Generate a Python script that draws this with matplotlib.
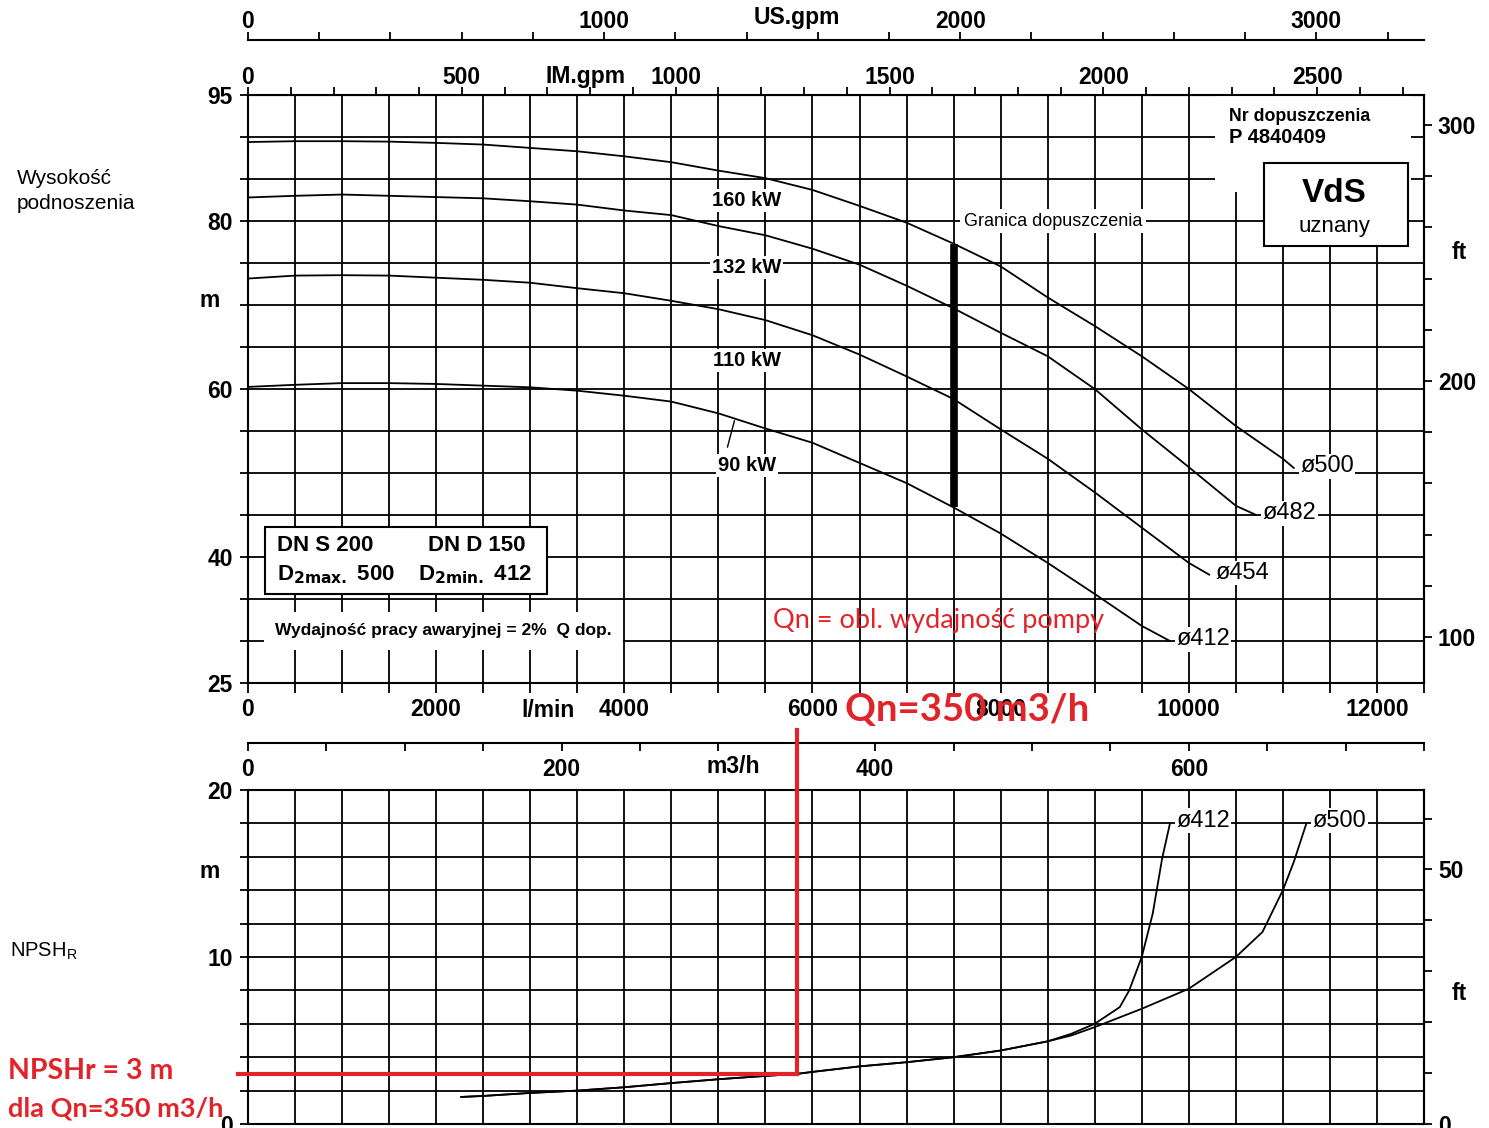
import numpy as np
import matplotlib
matplotlib.use('Agg')
import matplotlib.pyplot as plt
from matplotlib.patches import Rectangle

plt.rcParams['font.family'] = ['Liberation Sans', 'DejaVu Sans']
plt.rcParams['font.weight'] = 'bold'

# unit conversions
IM_GPM = 0.272765   # m3/h per imperial gpm
US_GPM = 0.227125   # m3/h per US gpm
FT = 0.3048         # m per ft

# Q-H curves, Q in m3/h, H in m
q500 = [0, 30, 60, 90, 120, 150, 180, 210, 240, 270, 300, 330, 360, 390, 420, 450, 480, 510, 540, 570, 600, 630, 660, 667]
h500 = [89.4, 89.5, 89.5, 89.45, 89.3, 89.1, 88.7, 88.3, 87.7, 87.0, 86.0, 85.1, 83.7, 81.8, 79.8, 77.3, 74.6, 70.9, 67.5, 63.9, 60.0, 55.6, 51.7, 50.6]
q482 = [0, 30, 60, 90, 120, 150, 180, 210, 240, 270, 300, 330, 360, 390, 420, 450, 480, 510, 540, 570, 600, 630, 643]
h482 = [82.8, 83.0, 83.15, 83.0, 82.85, 82.7, 82.35, 81.95, 81.25, 80.7, 79.4, 78.3, 76.7, 74.8, 72.3, 69.6, 66.7, 63.9, 60.0, 55.2, 50.7, 46.1, 45.0]
q454 = [0, 30, 60, 90, 120, 150, 180, 210, 240, 270, 300, 330, 360, 390, 420, 450, 480, 510, 540, 570, 600, 613]
h454 = [73.15, 73.5, 73.55, 73.5, 73.25, 73.0, 72.65, 72.0, 71.4, 70.5, 69.5, 68.2, 66.4, 64.1, 61.5, 58.8, 55.2, 51.7, 47.7, 43.5, 39.3, 37.9]
q412 = [0, 30, 60, 90, 120, 150, 180, 210, 240, 270, 300, 330, 360, 390, 420, 450, 480, 510, 540, 570, 588]
h412 = [60.25, 60.5, 60.7, 60.7, 60.6, 60.4, 60.2, 59.8, 59.2, 58.5, 57.1, 55.3, 53.6, 51.2, 48.8, 45.9, 42.8, 39.3, 35.6, 31.8, 30.0]
curve_names = ['ø500', 'ø482', 'ø454', 'ø412']
power_labels = ['160 kW', '132 kW', '110 kW', '90 kW']

# NPSH_R curves
npsh_q412 = [136, 150, 180, 210, 240, 270, 300, 330, 350, 360, 390, 420, 450, 480, 510, 525, 540, 556, 562, 570, 577, 583, 588]
npsh_h412 = [1.62, 1.68, 1.86, 2.0, 2.2, 2.45, 2.68, 2.88, 3.0, 3.12, 3.45, 3.7, 4.0, 4.4, 4.95, 5.4, 6.0, 7.0, 8.0, 10.0, 12.6, 15.9, 18.0]
npsh_q500 = [136, 150, 180, 210, 240, 270, 300, 330, 350, 360, 390, 420, 450, 480, 510, 525, 540, 570, 600, 630, 647, 660, 667, 675]
npsh_h500 = [1.62, 1.68, 1.86, 2.0, 2.2, 2.45, 2.68, 2.88, 3.0, 3.12, 3.45, 3.7, 4.0, 4.4, 4.95, 5.3, 5.8, 6.9, 8.1, 10.0, 11.5, 14.0, 15.7, 18.0]

Q_LIMIT = 450   # Granica dopuszczenia
QN = 350        # Qn
NPSHR = 3       # NPSHr at Qn

RED = '#e1242a'
TICK_FS = 16.5

fig = plt.figure(figsize=(14.89, 11.28), dpi=100)
ax1 = fig.add_axes([0.16655, 0.39450, 0.78979, 0.52128])
ax2 = fig.add_axes([0.16655, 0.003546, 0.78979, 0.29610])

for ax in (ax1, ax2):
    ax.set_xlim(0, 750)
    ax.set_xticks(np.arange(0, 751, 30))
    ax.grid(True, color='black', lw=1.3)
    ax.set_axisbelow(True)
    for s in ax.spines.values():
        s.set_linewidth(1.5)

# ---------- upper chart: Q-H ----------
ax1.set_ylim(25, 95)
ticks = np.arange(0, 751, 30)
ax1.set_xticklabels([f'{int(q * 50 / 3)}' if q % 120 == 0 else '' for q in ticks])
yt = np.arange(25, 96, 5)
ax1.set_yticks(yt)
ax1.set_yticklabels([str(v) if v in (25, 40, 60, 80, 95) else '' for v in yt])
ax1.tick_params(axis='x', direction='out', length=7, width=1.3, pad=4, labelsize=TICK_FS)
ax1.tick_params(axis='y', direction='out', length=6, width=1.3, pad=5, labelsize=TICK_FS)
ax1.text(191.5, -0.046, 'l/min', transform=ax1.get_xaxis_transform(),
         ha='center', va='center', fontsize=TICK_FS)
ax1.text(-0.033, 70.5, 'm', transform=ax1.get_yaxis_transform(),
         ha='center', va='center', fontsize=TICK_FS)

for q, h in zip([q500, q482, q454, q412], [h500, h482, h454, h412]):
    ax1.plot(q, h, color='black', lw=1.3, zorder=3)
for q, h, name in zip([q500, q482, q454, q412], [h500, h482, h454, h412], curve_names):
    ax1.text(q[-1] + 4, h[-1] + 0.2, name, ha='left', va='center', fontsize=17, fontweight='normal',
             bbox=dict(facecolor='white', edgecolor='none', pad=1), zorder=4)

for lab, h in zip(power_labels, [82.4, 74.5, 63.45, 50.95]):
    ax1.text(318, h, lab, ha='center', va='center', fontsize=14.5,
             bbox=dict(facecolor='white', edgecolor='none', pad=1.5), zorder=4)
ax1.plot([305.8, 310.2], [53.1, 56.2], color='black', lw=1, zorder=3)

# admission limit
ax1.plot([Q_LIMIT, Q_LIMIT], [h500[q500.index(Q_LIMIT)], h412[q412.index(Q_LIMIT)]],
         color='black', lw=5.5, solid_capstyle='butt', zorder=4)
ax1.text(Q_LIMIT + 6.5, 80, 'Granica dopuszczenia', ha='left', va='center', fontsize=13,
         fontweight='normal', bbox=dict(facecolor='white', edgecolor='none', pad=2.5), zorder=4)

# approval number and VdS box
ax1.add_patch(Rectangle((617, 83.5), 125, 11.45, facecolor='white', edgecolor='none', zorder=2))
ax1.text(625.6, 92.4, 'Nr dopuszczenia', ha='left', va='center', fontsize=12.8, zorder=4)
ax1.text(625.6, 89.9, 'P 4840409', ha='left', va='center', fontsize=14.5, zorder=4)
ax1.add_patch(Rectangle((648, 77.0), 92, 9.9, facecolor='white', edgecolor='black', lw=1.5, zorder=3))
ax1.text(692.6, 83.3, 'VdS', ha='center', va='center', fontsize=24, zorder=4)
ax1.text(692.6, 79.3, 'uznany', ha='center', va='center', fontsize=16, fontweight='normal', zorder=4)

# DN box
ax1.add_patch(Rectangle((10.9, 35.6), 180, 8.0, facecolor='white', edgecolor='black', lw=1.5, zorder=3))
ax1.text(18.5, 41.4, 'DN S 200', ha='left', va='center', fontsize=16, zorder=4)
ax1.text(115, 41.4, 'DN D 150', ha='left', va='center', fontsize=16, zorder=4)
ax1.text(18.5, 37.9, r'D$_{\mathbf{2max.}}$ 500', ha='left', va='center', fontsize=16, zorder=4)
ax1.text(108.5, 37.9, r'D$_{\mathbf{2min.}}$ 412', ha='left', va='center', fontsize=16, zorder=4)
ax1.text(17.2, 31.2, 'Wydajność pracy awaryjnej = 2%  Q dop.', ha='left', va='center',
         fontsize=12.5, bbox=dict(facecolor='white', edgecolor='none', pad=8), zorder=4)

# right ft axis
sec_ft = ax1.secondary_yaxis('right', functions=(lambda m: m / FT, lambda f: f * FT))
ft_t = np.arange(100, 301, 20)
sec_ft.set_yticks(ft_t, labels=[str(v) if v % 100 == 0 else '' for v in ft_t])
sec_ft.tick_params(direction='out', length=6, width=1.3, pad=4, labelsize=TICK_FS)
sec_ft.spines['right'].set_linewidth(1.5)
ax1.text(1.03, 250 * FT, 'ft', transform=ax1.get_yaxis_transform(), ha='center', va='center',
         fontsize=TICK_FS)

# IM gpm axis on top
sec_im = ax1.secondary_xaxis('top', functions=(lambda q: q / IM_GPM, lambda g: g * IM_GPM))
sec_im.set_xticks(np.arange(0, 2501, 500))
sec_im.set_xticks(np.arange(0, 2751, 100), minor=True)
sec_im.tick_params(which='both', direction='out', length=6, width=1.3, pad=-1.5, labelsize=TICK_FS)
ax1.text(215, 1.032, 'IM.gpm', transform=ax1.get_xaxis_transform(), ha='center', va='center',
         fontsize=TICK_FS)

# US gpm axis above
sec_us = ax1.secondary_xaxis(1.0935, functions=(lambda q: q / US_GPM, lambda g: g * US_GPM))
sec_us.set_xticks(np.arange(0, 3001, 1000))
sec_us.set_xticks(np.arange(0, 3301, 200), minor=True)
sec_us.tick_params(which='both', direction='out', length=6, width=1.3, pad=-1, labelsize=TICK_FS)
sec_us.spines['top'].set_linewidth(1.5)
ax1.text(349.8, 1.131, 'US.gpm', transform=ax1.get_xaxis_transform(), ha='center', va='center',
         fontsize=TICK_FS)

# ---------- lower chart: NPSH ----------
ax2.set_ylim(0, 20)
ax2.set_xticklabels([])
ax2.tick_params(axis='x', length=0)
yt2 = np.arange(0, 21, 2)
ax2.set_yticks(yt2)
ax2.set_yticklabels([str(v) if v % 10 == 0 else '' for v in yt2])
ax2.tick_params(axis='y', direction='out', length=6, width=1.3, pad=5, labelsize=TICK_FS)
ax2.text(-0.033, 15.1, 'm', transform=ax2.get_yaxis_transform(), ha='center', va='center',
         fontsize=TICK_FS)

ax2.plot(npsh_q412, npsh_h412, color='black', lw=1.3, zorder=3)
ax2.plot(npsh_q500, npsh_h500, color='black', lw=1.3, zorder=3)
ax2.text(npsh_q412[-1] + 4, npsh_h412[-1] + 0.15, 'ø412', ha='left', va='center', fontsize=17,
         fontweight='normal', bbox=dict(facecolor='white', edgecolor='none', pad=1), zorder=4)
ax2.text(npsh_q500[-1] + 4, npsh_h500[-1] + 0.15, 'ø500', ha='left', va='center', fontsize=17,
         fontweight='normal', bbox=dict(facecolor='white', edgecolor='none', pad=1), zorder=4)

sec_ft2 = ax2.secondary_yaxis('right', functions=(lambda m: m / FT, lambda f: f * FT))
ft_t2 = np.arange(0, 61, 10)
sec_ft2.set_yticks(ft_t2, labels=[str(v) if v in (0, 50) else '' for v in ft_t2])
sec_ft2.tick_params(direction='out', length=6, width=1.3, pad=4, labelsize=TICK_FS)
sec_ft2.spines['right'].set_linewidth(1.5)
ax2.text(1.03, 7.84, 'ft', transform=ax2.get_yaxis_transform(), ha='center', va='center',
         fontsize=TICK_FS)

# m3/h axis between the charts
sec_m3 = ax2.secondary_xaxis(1.1407)
sec_m3.xaxis.set_ticks_position('bottom')
sec_m3.spines['bottom'].set_visible(True)
sec_m3.spines['bottom'].set_linewidth(1.5)
sec_m3.spines['top'].set_visible(False)
m3_t = np.arange(0, 751, 50)
sec_m3.set_xticks(m3_t, labels=[str(v) if v % 200 == 0 else '' for v in m3_t])
sec_m3.tick_params(direction='out', length=6, width=1.3, pad=5, labelsize=TICK_FS)
ax2.text(309.6, 1.069, 'm3/h', transform=ax2.get_xaxis_transform(), ha='center', va='center',
         fontsize=TICK_FS)

# left side labels
fig.text(0.0114, 1 - 191 / 1128, 'Wysokość\npodnoszenia', ha='left', va='center',
         fontsize=15, fontweight='normal', linespacing=1.45)
fig.text(0.0067, 1 - 951 / 1128, r'NPSH$_{\mathregular{R}}$', ha='left', va='center',
         fontsize=14.5, fontweight='normal')

# red annotations
ax2.plot([-6.4, QN], [NPSHR, NPSHR], color=RED, lw=3, clip_on=False, zorder=5)
ax2.plot([QN, QN], [NPSHR, 23.6], color=RED, lw=3, clip_on=False, zorder=5)
ax1.text(335, 32.4, 'Qn = obl. wydajność pompy', ha='left', va='center', fontsize=19.5,
         fontweight='normal', color=RED, family='Lato', zorder=5)
ax1.text(381, 21.8, f'Qn={QN} m3/h', ha='left', va='center', fontsize=27.5,
         color=RED, family='Lato', clip_on=False, zorder=5)
fig.text(8 / 1489, 1 - 1071 / 1128, f'NPSHr = {NPSHR} m', ha='left', va='center', fontsize=20.5,
         color=RED, family='Lato')
fig.text(8 / 1489, 1 - 1108 / 1128, f'dla Qn={QN} m3/h', ha='left', va='center', fontsize=19.5,
         color=RED, family='Lato')

fig.savefig('out.png', dpi=100)
